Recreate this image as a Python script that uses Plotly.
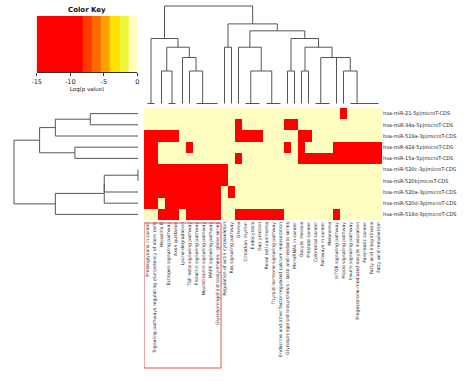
import numpy as np
import plotly.graph_objects as go

# ---------------- data ----------------
row_labels = [
    "hsa-miR-21-5p|microT-CDS",
    "hsa-miR-34a-5p|microT-CDS",
    "hsa-miR-519a-3p|microT-CDS",
    "hsa-miR-424-5p|microT-CDS",
    "hsa-miR-15a-5p|microT-CDS",
    "hsa-miR-520c-3p|microT-CDS",
    "hsa-miR-520b|microT-CDS",
    "hsa-miR-520a-3p|microT-CDS",
    "hsa-miR-520d-3p|microT-CDS",
    "hsa-miR-519d-3p|microT-CDS",
]

col_labels = [
    "Proteoglycans in cancer",
    "Signaling pathways regulating pluripotency of stem cells",
    "Hepatitis B",
    "Estrogen signaling pathway",
    "Axon guidance",
    "Lysine degradation",
    "TGF-beta signaling pathway",
    "Prolactin signaling pathway",
    "Neurotrophin signaling pathway",
    "MAPK signaling pathway",
    "Glycosphingolipid biosynthesis - globo series",
    "Regulation of actin cytoskeleton",
    "Ras signaling pathway",
    "Glioma",
    "Circadian rhythm",
    "Endocytosis",
    "Gap junction",
    "Renal cell carcinoma",
    "Thyroid hormone signaling pathway",
    "Endocrine and other factor-regulated calcium reabsorption",
    "Glycosphingolipid biosynthesis - lacto and neolacto series",
    "MicroRNAs in cancer",
    "Oocyte meiosis",
    "Prostate cancer",
    "Colorectal cancer",
    "Pathways in cancer",
    "Melanoma",
    "mTOR signaling pathway",
    "Hippo signaling pathway",
    "Insulin signaling pathway",
    "Progesterone-mediated oocyte maturation",
    "Pancreatic cancer",
    "Fatty acid biosynthesis",
    "Fatty acid metabolism",
]

# significant (red) pathways per miRNA, as column indices
sig_cols_row0 = [28]
sig_cols_row1 = [13, 20, 21]
sig_cols_row2 = [0, 1, 2, 3, 4, 13, 14, 15, 16, 22, 23]
sig_cols_row3 = [0, 1, 6, 20, 22, 27, 28, 29, 30, 31, 32, 33]
sig_cols_row4 = [0, 1, 13, 22, 23, 24, 25, 26, 27, 28, 29, 30, 31, 32, 33]
sig_cols_row5 = [0, 1, 2, 3, 4, 5, 6, 7, 8, 9, 10, 11]
sig_cols_row6 = [0, 1, 2, 3, 4, 5, 6, 7, 8, 9, 10, 11]
sig_cols_row7 = [0, 1, 2, 3, 4, 5, 6, 7, 8, 9, 10, 12]
sig_cols_row8 = [0, 1, 3, 4, 5, 6, 7, 8, 9, 10]
sig_cols_row9 = [2, 3, 4, 6, 7, 8, 9, 10, 13, 14, 15, 16, 17, 18, 19, 27]
sig_rows = [sig_cols_row0, sig_cols_row1, sig_cols_row2, sig_cols_row3, sig_cols_row4,
            sig_cols_row5, sig_cols_row6, sig_cols_row7, sig_cols_row8, sig_cols_row9]

sig_logp = -10.0      # estimated log(p) of significant cells
nonsig_logp = -0.5    # estimated log(p) of non-significant cells

# dendrogram topologies (leaf indices in displayed order)
col_tree = (
    ((0, 1), ((2, (3, 4)), (5, (6, (7, (8, (9, 10))))))),
    ((11, 12),
     ((13, ((14, (15, 16)), (17, (18, 19)))),
      ((20, 21), ((22, 23), ((24, (25, 26)), (27, (28, (29, (30, (31, (32, 33))))))))))),
)
row_tree = ((((0, 1), 2), (3, 4)), ((((5, 6), 7), 8), 9))

# color key
key_breaks = [-15, -8.13, -6.8, -5.4, -4.06, -2.67, -1.33, 0]
key_colors = ["#FF0000", "#FF3C00", "#FF6A00", "#FFA000", "#FFE200", "#F0F53C", "#FFFFC2"]
key_ticks = [-15, -10, -5, 0]
box_cols = (0, 10)   # highlighted column block

# ---------------- build ----------------
n_rows, n_cols = len(row_labels), len(col_labels)
mat = np.full((n_rows, n_cols), nonsig_logp)
for r, cols in enumerate(sig_rows):
    mat[r, cols] = sig_logp

zmin, zmax = key_breaks[0], key_breaks[-1]
cs = []
for i, c in enumerate(key_colors):
    a = (key_breaks[i] - zmin) / (zmax - zmin)
    b = (key_breaks[i + 1] - zmin) / (zmax - zmin)
    cs.append([a, c])
    cs.append([b, c])
cs[0][0] = 0.0
cs[-1][0] = 1.0


def leaves(t):
    return [t] if isinstance(t, int) else leaves(t[0]) + leaves(t[1])


def dendro(tree, vecs):
    pos, hts = [], []

    def rec(t):
        if isinstance(t, int):
            return float(t), 0.0
        xa, ha = rec(t[0])
        xb, hb = rec(t[1])
        h = max(np.linalg.norm(vecs[i] - vecs[j]) for i in leaves(t[0]) for j in leaves(t[1]))
        pos.extend([xa, xa, xb, xb, None])
        hts.extend([ha, h, h, hb, None])
        return (xa + xb) / 2, h

    _, root_h = rec(tree)
    return pos, hts, root_h


cpos, chts, croot = dendro(col_tree, mat.T)
rpos, rhts, rroot = dendro(row_tree, mat)

W, H = 474, 381


def px(x):
    return x / W


def py(y):
    return 1 - y / H


hm_l, hm_r, hm_t, hm_b = 144, 382, 108, 220
line_col = "#555555"

fig = go.Figure()
fig.add_trace(go.Heatmap(z=mat, x=list(range(n_cols)), y=list(range(n_rows)),
                         colorscale=cs, zmin=zmin, zmax=zmax, showscale=False,
                         hoverinfo="skip", xaxis="x", yaxis="y"))
fig.add_trace(go.Scatter(x=cpos, y=chts, mode="lines", line=dict(color=line_col, width=1),
                         hoverinfo="skip", showlegend=False, xaxis="x2", yaxis="y2"))
fig.add_trace(go.Scatter(x=rhts, y=rpos, mode="lines", line=dict(color=line_col, width=1),
                         hoverinfo="skip", showlegend=False, xaxis="x3", yaxis="y3"))
key_mid = [[(key_breaks[i] + key_breaks[i + 1]) / 2 for i in range(len(key_colors))]]
fig.add_trace(go.Heatmap(z=key_mid, x=key_breaks, y=[0, 1], colorscale=cs, zmin=zmin, zmax=zmax,
                         showscale=False, hoverinfo="skip", xaxis="x4", yaxis="y4"))

# column dendrogram geometry
cd_bot, cd_top = 103.5, 6.0
cpad = 0.02 * croot
cscale = (cd_bot - cd_top) / croot
# row dendrogram geometry
rd_right, rd_left = 138.0, 14.0
rpad = 0.02 * rroot
rscale = (rd_right - rd_left) / rroot

hm_xdom = [px(hm_l), px(hm_r)]
hm_ydom = [py(hm_b), py(hm_t)]
font_family = "DejaVu Sans"

fig.update_layout(
    width=W, height=H, margin=dict(l=0, r=0, t=0, b=0),
    paper_bgcolor="white", plot_bgcolor="white",
    font=dict(family=font_family, color="#222222"),
    showlegend=False,
    xaxis=dict(domain=hm_xdom, range=[-0.5, n_cols - 0.5], tickvals=list(range(n_cols)),
               ticktext=col_labels, tickangle=-90, tickfont=dict(size=4.6, color="#222222"),
               showgrid=False, zeroline=False, ticks="", automargin=False, anchor="y",
               fixedrange=True),
    yaxis=dict(domain=hm_ydom, range=[n_rows - 0.5, -0.5], tickvals=list(range(n_rows)),
               ticktext=row_labels, side="right", tickfont=dict(size=5, color="#222222"),
               showgrid=False, zeroline=False, ticks="", automargin=False, anchor="x",
               fixedrange=True),
    xaxis2=dict(domain=hm_xdom, range=[-0.5, n_cols - 0.5], visible=False, anchor="y2"),
    yaxis2=dict(domain=[py(cd_bot + cpad * cscale), py(cd_top - cpad * cscale)],
                range=[-cpad, croot + cpad], visible=False, anchor="x2"),
    xaxis3=dict(domain=[px(rd_left - rpad * rscale), px(rd_right + rpad * rscale)],
                range=[rroot + rpad, -rpad], visible=False, anchor="y3"),
    yaxis3=dict(domain=hm_ydom, range=[n_rows - 0.5, -0.5], visible=False, anchor="x3"),
    xaxis4=dict(domain=[px(36.7), px(137.3)], range=[zmin, zmax], tickvals=key_ticks,
                ticktext=[str(t) for t in key_ticks], ticks="outside", ticklen=3,
                tickwidth=0.8, tickcolor="#333333", showline=True, linecolor="#333333",
                linewidth=0.8, tickfont=dict(size=6.5, color="#222222"),
                title=dict(text="Log(p value)", font=dict(size=5.5, color="#222222"), standoff=1),
                showgrid=False, zeroline=False, automargin=False, anchor="y4"),
    yaxis4=dict(domain=[py(72), py(16)], range=[0, 1], visible=False, anchor="x4"),
)

fig.add_annotation(text="<b>Color Key</b>", x=px(87), y=py(10), xref="paper", yref="paper",
                   showarrow=False, font=dict(size=7, color="#111111"), xanchor="center",
                   yanchor="middle")

fig.add_shape(type="rect", xref="x", yref="paper",
              x0=box_cols[0] - 0.5, x1=box_cols[1] + 0.5, y0=py(368), y1=py(223),
              line=dict(color="#E05050", width=1))

fig.write_html("out.html", config={"displayModeBar": False},
               post_script="document.body.style.margin='0px';document.body.style.overflow='hidden';")
